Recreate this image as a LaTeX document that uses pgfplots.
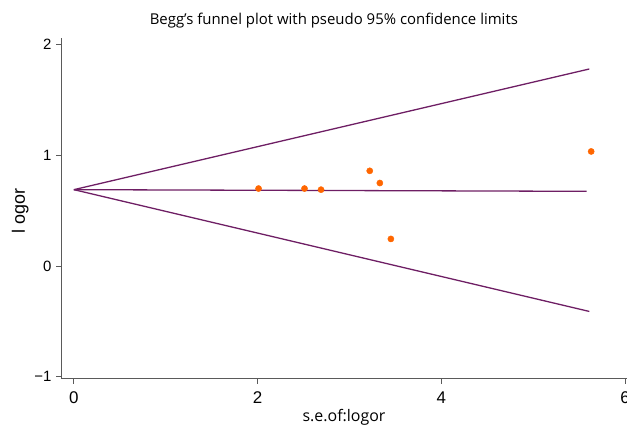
\documentclass[border=0pt]{standalone}
\usepackage{pgfplots}
\pgfplotsset{compat=1.18}
\usepackage{fontspec}
\setmainfont{Liberation Sans}
\newfontfamily\segoe{Open Sans}
\definecolor{funnel}{RGB}{110,30,100}
\definecolor{dots}{RGB}{255,102,0}
\definecolor{axgray}{RGB}{90,90,90}
\begin{document}
\begin{tikzpicture}[x=1bp,y=1bp]
\begin{axis}[
  scale only axis,
  width=566bp, height=341bp,
  xmin=-0.14, xmax=6.02,
  ymin=-1.02, ymax=2.06,
  axis x line*=bottom, axis y line*=left,
  axis line style={axgray, line width=1pt},
  xtick={0,2,4,6}, ytick={-1,0,1,2},
  xticklabels={0,2,4,6}, yticklabels={−1,0,1,2},
  tick align=outside,
  major tick length=5bp,
  tick style={axgray, line width=0.8pt},
  xticklabel style={font=\fontsize{17}{19}\selectfont, yshift=-4bp},
  yticklabel style={font=\fontsize{15}{17}\selectfont, xshift=-1bp},
  clip=false,
]
\addplot[funnel, line width=1.3pt] coordinates {(0,0.69) (5.61,1.78)};
\addplot[funnel, line width=1.3pt] coordinates {(0,0.69) (5.58,0.675)};
\addplot[funnel, line width=1.3pt] coordinates {(0,0.69) (5.61,-0.41)};
\addplot[only marks, mark=*, mark size=3.1bp, dots, mark options={draw=dots, fill=dots}] coordinates {
(2.01,0.70) (2.51,0.70) (2.69,0.69) (3.22,0.86) (3.33,0.75) (3.45,0.245) (5.63,1.035)};
\node[font=\segoe\fontsize{15}{17}\selectfont, anchor=center] at (rel axis cs:0.482,1.05) {Begg’s funnel plot with pseudo 95\% confidence limits};
\node[font=\segoe\fontsize{16}{18}\selectfont, anchor=center] at (rel axis cs:0.5,-0.112) {s.e.of:logor};
\node[font=\fontsize{18}{20}\selectfont, rotate=90, anchor=center] at (rel axis cs:-0.072,0.492) {l ogor};
\coordinate (bl) at (rel axis cs:-0.1078,-0.1466);
\coordinate (tr) at (rel axis cs:1,1.1114);
\end{axis}
\pgfresetboundingbox
\path[use as bounding box] (bl) rectangle (tr);
\end{tikzpicture}
\end{document}
